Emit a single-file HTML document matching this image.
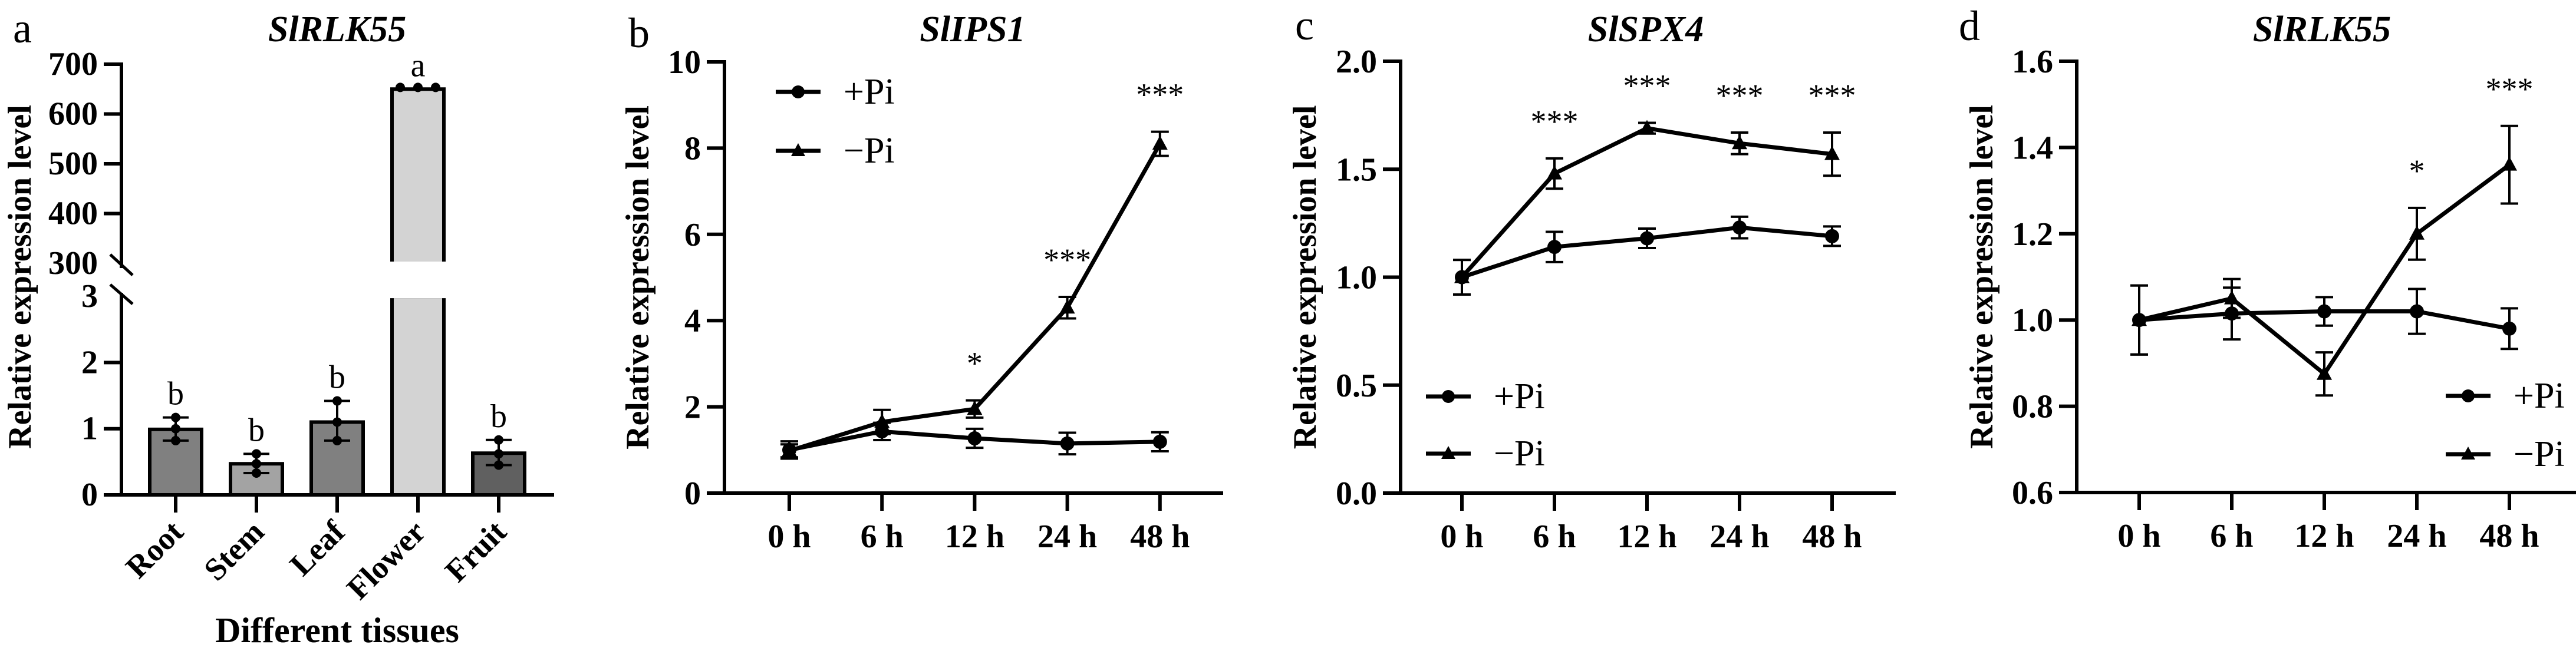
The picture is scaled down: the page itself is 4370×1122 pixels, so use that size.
<!DOCTYPE html>
<html><head><meta charset="utf-8"><style>
html,body{margin:0;padding:0;background:#fff;}
svg{display:block;font-family:"Liberation Serif","DejaVu Serif","Noto Serif CJK SC",serif;}
svg text{font-family:"Liberation Serif","DejaVu Serif","Noto Serif CJK SC",serif;fill:#000;}
</style></head>
<body>
<svg id="fig" width="4370" height="1122" viewBox="0 0 4370 1122" xmlns="http://www.w3.org/2000/svg"></svg>
<script>
// ---- Panel a data ----
const aCategories = ["Root","Stem","Leaf","Flower","Fruit"];
const aMeans = [0.99, 0.47, 1.10, 650, 0.63];
const aPoints = [[0.82,1.0,1.17],[0.33,0.47,0.62],[0.82,1.10,1.42],[651,651,651],[0.45,0.62,0.83]];
const aLetters = ["b","b","b","a","b"];
const aColors = ["#808080","#a3a3a3","#808080","#d3d3d3","#606060"];
const aLowTicks = [0,1,2,3];
const aHighTicks = [300,400,500,600,700];

// ---- Time-course panels ----
const timeLabels = ["0 h","6 h","12 h","24 h","48 h"];
const bPlus = [1.0, 1.43, 1.27, 1.15, 1.19];
const bPlusErr = [0.2, 0.2, 0.22, 0.25, 0.22];
const bMinus = [0.98, 1.65, 1.95, 4.3, 8.1];
const bMinusErr = [0.15, 0.28, 0.2, 0.25, 0.28];
const bStars = ["","","*","***","***"];
const bTicks = [0,2,4,6,8,10];

const cPlus = [1.0, 1.14, 1.18, 1.23, 1.19];
const cPlusErr = [0.08, 0.07, 0.045, 0.05, 0.045];
const cMinus = [1.0, 1.48, 1.69, 1.62, 1.57];
const cMinusErr = [0.08, 0.07, 0.025, 0.05, 0.1];
const cStars = ["","***","***","***","***"];
const cTicks = [0.0,0.5,1.0,1.5,2.0];

const dPlus = [1.0, 1.015, 1.02, 1.02, 0.98];
const dPlusErr = [0.08, 0.06, 0.033, 0.052, 0.047];
const dMinus = [1.0, 1.05, 0.875, 1.2, 1.36];
const dMinusErr = [0.08, 0.045, 0.05, 0.06, 0.09];
const dStars = ["","","","*","***"];
const dTicks = [0.6,0.8,1.0,1.2,1.4,1.6];

const NS="http://www.w3.org/2000/svg";
const svg=document.getElementById('fig');
function mk(tag,attrs,parent){const e=document.createElementNS(NS,tag);for(const k in attrs)e.setAttribute(k,attrs[k]);(parent||svg).appendChild(e);return e;}
function txt(s,x,y,size,weight,style,anchor,parent){const e=mk('text',{x:x,y:y,'font-size':size,'font-weight':weight||'normal','font-style':style||'normal','text-anchor':anchor||'middle'},parent);e.textContent=s;return e;}
const LW=6;

// ================= Panel a =================
(function(){
  const g=mk('g',{});
  
  
  const ax=206, y0=840, unitLow=112.3, y300=447, unitHigh=0.845;
  function yA(v){return v<=3? y0-v*unitLow : y300-(v-300)*unitHigh;}
  const xs0=298, step=137;
  function xA(i){return xs0+i*step;}
  let e;
  e=txt('a',22,72,72,'normal','normal','start',g);
  
  
  e=txt('SlRLK55',572,70,62,'bold','italic','middle',g);
  
  
  e=txt('Relative expression level',0,0,56,'bold','normal','middle',g);
  e.setAttribute('transform','translate(52,470) rotate(-90)');
  
  
  aMeans.forEach((v,i)=>{
    const cx=xA(i), w=88;
    if(v>3){
      const top=yA(v);
      let r=mk('rect',{x:cx-w/2,y:top,width:w,height:yA(300)-top,fill:aColors[i],stroke:'#000','stroke-width':LW},g);
      
      
      r=mk('rect',{x:cx-w/2,y:yA(3),width:w,height:y0-yA(3),fill:aColors[i],stroke:'#000','stroke-width':LW},g);
      
      
      r=mk('rect',{x:cx-w/2-LW,y:yA(300)-LW/2,width:w+2*LW,height:LW+1,fill:'#fff'},g);
      
      
      r=mk('rect',{x:cx-w/2-LW,y:yA(3)-LW/2-1,width:w+2*LW,height:LW+1,fill:'#fff'},g);
      
      
    } else {
      const r=mk('rect',{x:cx-w/2,y:yA(v),width:w,height:y0-yA(v),fill:aColors[i],stroke:'#000','stroke-width':LW},g);
      
      
    }
    const pts=aPoints[i];
    const lo=Math.min(...pts), hi=Math.max(...pts);
    if(v<=3){
      let l=mk('line',{x1:cx,x2:cx,y1:yA(lo),y2:yA(hi),stroke:'#000','stroke-width':4},g);
      
      
      [lo,hi].forEach(p=>{l=mk('line',{x1:cx-22,x2:cx+22,y1:yA(p),y2:yA(p),stroke:'#000','stroke-width':4},g);
        
        });
      pts.forEach(p=>{const c=mk('circle',{cx:cx,cy:yA(p),r:8,fill:'#000'},g);
        
        });
    } else {
      pts.forEach((p,k)=>{const c=mk('circle',{cx:cx-30+k*30,cy:yA(p)-2,r:8,fill:'#000'},g);
        
        });
    }
    const lt=txt(aLetters[i],cx,yA(v<=3?hi:v)-22,56,'normal','normal','middle',g);
    
    
    let t=mk('line',{x1:cx,x2:cx,y1:y0,y2:y0+30,stroke:'#000','stroke-width':LW},g);
    
    
    const xl=txt(aCategories[i],0,0,54,'bold','normal','end',g);
    xl.setAttribute('transform','translate('+(cx+16)+','+(y0+66)+') rotate(-45)');
    
    
  });
  let l=mk('line',{x1:ax,x2:ax,y1:yA(700)-3,y2:yA(300)+8,stroke:'#000','stroke-width':LW},g);
  
  
  l=mk('line',{x1:ax,x2:ax,y1:yA(3)-6,y2:y0+3,stroke:'#000','stroke-width':LW},g);
  
  
  l=mk('line',{x1:176,x2:940,y1:y0,y2:y0,stroke:'#000','stroke-width':LW},g);
  
  
  [[187,432,225,467],[187,483,225,516]].forEach(s=>{const b=mk('line',{x1:s[0],y1:s[1],x2:s[2],y2:s[3],stroke:'#000','stroke-width':5},g);
    
    });
  aHighTicks.concat(aLowTicks).forEach(v=>{
    const y=yA(v);
    if(v!==300 && v!==3){
      let t=mk('line',{x1:176,x2:ax,y1:y,y2:y,stroke:'#000','stroke-width':LW},g);
      
      
    }
    const tl=txt(String(v),166,y+18,56,'bold','normal','end',g);
    
    
  });
  const xt=txt('Different tissues',572,1090,60,'bold','normal','middle',g);
  
  
})();

// ================= Line panels =================
function linePanel(o){
  const g=mk('g',{});
  
  
  const {ax,x0,step,yTop,yBot,vMin,vMax,xEnd}=o;
  function yS(v){return yBot-(v-vMin)/(vMax-vMin)*(yBot-yTop);}
  function xS(i){return x0+i*step;}
  let e=txt(o.id,o.labX,o.labY,72,'normal','normal','start',g);
  
  
  e=txt(o.title,o.titleX,70,62,'bold','italic','middle',g);
  
  
  e=txt('Relative expression level',0,0,56,'bold','normal','middle',g);
  e.setAttribute('transform','translate('+o.ytX+','+((yTop+yBot)/2)+') rotate(-90)');
  
  
  let l=mk('line',{x1:ax,x2:ax,y1:yTop-3,y2:yBot+3,stroke:'#000','stroke-width':LW},g);
  
  
  l=mk('line',{x1:ax-30,x2:xEnd,y1:yBot,y2:yBot,stroke:'#000','stroke-width':LW},g);
  
  
  o.ticks.forEach(v=>{
    const y=yS(v);
    let t=mk('line',{x1:ax-30,x2:ax,y1:y,y2:y,stroke:'#000','stroke-width':LW},g);
    
    
    const tl=txt(o.fmt(v),ax-40,y+19,56,'bold','normal','end',g);
    
    
  });
  timeLabels.forEach((s,i)=>{
    const x=xS(i);
    let t=mk('line',{x1:x,x2:x,y1:yBot,y2:yBot+30,stroke:'#000','stroke-width':LW},g);
    
    
    const tl=txt(s,x,yBot+92,56,'bold','normal','middle',g);
    
    
  });
  function series(vals,errs,marker,name){
    const pts=vals.map((v,i)=>xS(i)+','+yS(v)).join(' ');
    const pl=mk('polyline',{points:pts,fill:'none',stroke:'#000','stroke-width':7,'stroke-linejoin':'round'},g);
    
    
    vals.forEach((v,i)=>{
      const x=xS(i);
      let eb=mk('path',{d:'M'+x+' '+yS(v-errs[i])+'V'+yS(v+errs[i])+'M'+(x-15)+' '+yS(v-errs[i])+'H'+(x+15)+'M'+(x-15)+' '+yS(v+errs[i])+'H'+(x+15),stroke:'#000','stroke-width':4,fill:'none'},g);
      
      
      let m;
      if(marker==='circle') m=mk('circle',{cx:x,cy:yS(v),r:12,fill:'#000'},g);
      else { const y=yS(v); m=mk('polygon',{points:(x)+','+(y-14)+' '+(x-13)+','+(y+10)+' '+(x+13)+','+(y+10),fill:'#000'},g);}
      
      
    });
  }
  series(o.plus,o.plusErr,'circle','plus-pi');
  series(o.minus,o.minusErr,'tri','minus-pi');
  o.stars.forEach((s,i)=>{
    if(!s) return;
    const top=Math.max(o.plus[i]+o.plusErr[i],o.minus[i]+o.minusErr[i]);
    const st=txt(s,xS(i),yS(top)-o.starGap,54,'normal','normal','middle',g);
    
    
  });
  [['+Pi','circle',o.legY1],['\u2212Pi','tri',o.legY2]].forEach(L=>{
    const lg=mk('g',{},g);
    
    
    mk('line',{x1:o.legX,x2:o.legX+76,y1:L[2],y2:L[2],stroke:'#000','stroke-width':7},lg);
    const cx=o.legX+38;
    if(L[1]==='circle') mk('circle',{cx:cx,cy:L[2],r:11,fill:'#000'},lg);
    else mk('polygon',{points:cx+','+(L[2]-13)+' '+(cx-12)+','+(L[2]+9)+' '+(cx+12)+','+(L[2]+9),fill:'#000'},lg);
    txt(L[0],o.legX+115,L[2]+20,62,'normal','normal','start',lg);
  });
}
linePanel({id:'b',title:'SlIPS1',titleX:1650,labX:1066,labY:80,ytX:1100,ax:1229,x0:1339,step:157.2,yTop:105,yBot:837,vMin:0,vMax:10,xEnd:2075,
  ticks:bTicks,fmt:v=>String(v),plus:bPlus,plusErr:bPlusErr,minus:bMinus,minusErr:bMinusErr,stars:bStars,starGap:45,legX:1316,legY1:156,legY2:256});
linePanel({id:'c',title:'SlSPX4',titleX:2792,labX:2197,labY:67,ytX:2232,ax:2376,x0:2480,step:157,yTop:104,yBot:837,vMin:0,vMax:2,xEnd:3216,
  ticks:cTicks,fmt:v=>v.toFixed(1),plus:cPlus,plusErr:cPlusErr,minus:cMinus,minusErr:cMinusErr,stars:cStars,starGap:45,legX:2419,legY1:673,legY2:770});
linePanel({id:'d',title:'SlRLK55',titleX:3939,labX:3323,labY:68,ytX:3380,ax:3523,x0:3629,step:157,yTop:104,yBot:836,vMin:0.6,vMax:1.6,xEnd:4370,
  ticks:dTicks,fmt:v=>v.toFixed(1),plus:dPlus,plusErr:dPlusErr,minus:dMinus,minusErr:dMinusErr,stars:dStars,starGap:45,legX:4149,legY1:672,legY2:771});
</script>
</body></html>
